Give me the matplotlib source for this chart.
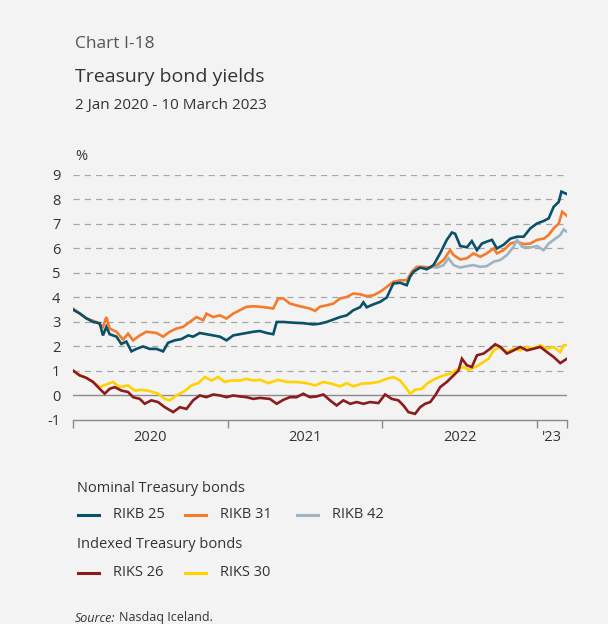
import matplotlib
matplotlib.use("Agg")
import matplotlib.pyplot as plt
from matplotlib.lines import Line2D
import numpy as np

plt.rcParams['font.family'] = ['Open Sans', 'DejaVu Sans']

# years since 2 Jan 2020 / yield in %
t_rikb25 = [0.000, 0.043, 0.086, 0.130, 0.173, 0.194, 0.216, 0.237, 0.281, 0.313, 0.345, 0.378, 0.410, 0.453,
            0.496, 0.540, 0.583, 0.615, 0.658, 0.701, 0.745, 0.777, 0.820, 0.863, 0.907, 0.950, 0.993, 1.036,
            1.079, 1.122, 1.166, 1.209, 1.252, 1.295, 1.317, 1.360, 1.425, 1.489, 1.554, 1.597, 1.640, 1.684,
            1.727, 1.770, 1.813, 1.856, 1.878, 1.899, 1.943, 1.986, 2.029, 2.051, 2.072, 2.115, 2.158, 2.180,
            2.202, 2.245, 2.288, 2.331, 2.374, 2.417, 2.450, 2.471, 2.504, 2.547, 2.579, 2.612, 2.644, 2.676,
            2.709, 2.741, 2.784, 2.828, 2.871, 2.914, 2.957, 3.000, 3.043, 3.076, 3.108, 3.141, 3.158, 3.194]
y_rikb25 = [3.50, 3.35, 3.15, 3.00, 2.95, 2.45, 2.80, 2.50, 2.40, 2.10, 2.20, 1.80, 1.90, 2.00,
            1.90, 1.90, 1.80, 2.15, 2.25, 2.30, 2.45, 2.40, 2.55, 2.50, 2.45, 2.40, 2.25, 2.45,
            2.50, 2.55, 2.60, 2.63, 2.55, 2.50, 3.00, 3.00, 2.97, 2.95, 2.90, 2.93, 3.00, 3.10,
            3.20, 3.27, 3.48, 3.60, 3.80, 3.60, 3.72, 3.82, 4.00, 4.30, 4.57, 4.60, 4.50, 4.85,
            5.05, 5.22, 5.15, 5.32, 5.80, 6.35, 6.65, 6.60, 6.10, 6.05, 6.30, 5.93, 6.20, 6.28,
            6.35, 6.00, 6.15, 6.40, 6.48, 6.48, 6.82, 7.02, 7.12, 7.23, 7.70, 7.90, 8.32, 8.22]

t_rikb31 = [0.000, 0.043, 0.086, 0.151, 0.194, 0.216, 0.237, 0.281, 0.324, 0.356, 0.389, 0.432, 0.475, 0.540,
            0.583, 0.626, 0.669, 0.712, 0.755, 0.799, 0.842, 0.863, 0.907, 0.950, 0.993, 1.036, 1.079, 1.122,
            1.166, 1.209, 1.252, 1.295, 1.327, 1.360, 1.403, 1.468, 1.532, 1.565, 1.597, 1.640, 1.684, 1.727,
            1.770, 1.813, 1.856, 1.899, 1.943, 1.986, 2.029, 2.072, 2.115, 2.158, 2.191, 2.223, 2.266, 2.310,
            2.353, 2.396, 2.439, 2.461, 2.504, 2.547, 2.590, 2.633, 2.676, 2.720, 2.741, 2.784, 2.828, 2.871,
            2.914, 2.957, 3.000, 3.043, 3.076, 3.108, 3.141, 3.163, 3.194]
y_rikb31 = [3.55, 3.35, 3.15, 3.00, 2.80, 3.20, 2.73, 2.60, 2.28, 2.52, 2.25, 2.45, 2.60, 2.55,
            2.40, 2.60, 2.73, 2.80, 3.00, 3.20, 3.07, 3.34, 3.20, 3.27, 3.14, 3.34, 3.48, 3.62,
            3.64, 3.62, 3.59, 3.55, 3.96, 3.96, 3.75, 3.64, 3.55, 3.45, 3.62, 3.68, 3.75, 3.96,
            4.02, 4.16, 4.13, 4.05, 4.09, 4.23, 4.43, 4.64, 4.70, 4.70, 5.05, 5.25, 5.25, 5.22,
            5.32, 5.53, 5.93, 5.73, 5.55, 5.60, 5.80, 5.66, 5.80, 6.00, 5.80, 5.93, 6.20, 6.28,
            6.18, 6.20, 6.35, 6.40, 6.55, 6.82, 7.02, 7.50, 7.33]

t_rikb42 = [2.320, 2.353, 2.396, 2.428, 2.461, 2.504, 2.547, 2.590, 2.633, 2.676, 2.720, 2.763,
            2.806, 2.849, 2.871, 2.903, 2.957, 3.000, 3.043, 3.076, 3.108, 3.151, 3.173, 3.194]
y_rikb42 = [5.25, 5.22, 5.32, 5.60, 5.32, 5.22, 5.28, 5.32, 5.25, 5.28, 5.46, 5.53,
            5.73, 6.07, 6.35, 6.07, 6.04, 6.10, 5.93, 6.20, 6.35, 6.55, 6.78, 6.68]

t_riks26 = [0.000, 0.043, 0.086, 0.130, 0.173, 0.205, 0.237, 0.270, 0.313, 0.356, 0.389, 0.432, 0.464, 0.507,
            0.550, 0.594, 0.648, 0.691, 0.734, 0.777, 0.820, 0.863, 0.907, 0.950, 0.993, 1.036, 1.079, 1.122,
            1.166, 1.209, 1.273, 1.317, 1.360, 1.403, 1.446, 1.489, 1.532, 1.576, 1.619, 1.662, 1.705, 1.748,
            1.792, 1.835, 1.878, 1.921, 1.975, 2.018, 2.061, 2.104, 2.137, 2.169, 2.212, 2.245, 2.277, 2.310,
            2.342, 2.374, 2.417, 2.461, 2.493, 2.515, 2.547, 2.579, 2.612, 2.655, 2.698, 2.730, 2.763, 2.806,
            2.849, 2.892, 2.935, 2.979, 3.022, 3.065, 3.108, 3.151, 3.194]
y_riks26 = [1.02, 0.82, 0.72, 0.55, 0.27, 0.07, 0.27, 0.34, 0.20, 0.14, -0.07, -0.14, -0.34, -0.20,
            -0.27, -0.48, -0.68, -0.48, -0.55, -0.20, 0.00, -0.07, 0.04, 0.00, -0.07, 0.00, -0.04, -0.07,
            -0.14, -0.10, -0.14, -0.34, -0.18, -0.07, -0.07, 0.07, -0.07, -0.04, 0.04, -0.20, -0.41, -0.20,
            -0.34, -0.27, -0.34, -0.27, -0.31, 0.04, -0.14, -0.20, -0.41, -0.68, -0.75, -0.48, -0.34, -0.27,
            0.00, 0.34, 0.55, 0.82, 1.02, 1.50, 1.23, 1.16, 1.64, 1.71, 1.91, 2.09, 1.98, 1.71,
            1.84, 1.98, 1.84, 1.91, 1.98, 1.77, 1.57, 1.32, 1.50]

t_riks30 = [0.000, 0.043, 0.086, 0.130, 0.173, 0.216, 0.259, 0.302, 0.356, 0.399, 0.442, 0.496, 0.550, 0.594,
            0.626, 0.669, 0.723, 0.766, 0.809, 0.853, 0.896, 0.939, 0.982, 1.025, 1.079, 1.122, 1.166, 1.209,
            1.263, 1.327, 1.381, 1.446, 1.511, 1.565, 1.619, 1.673, 1.727, 1.770, 1.813, 1.867, 1.921, 1.975,
            2.029, 2.072, 2.115, 2.158, 2.180, 2.212, 2.256, 2.288, 2.342, 2.396, 2.439, 2.482, 2.525, 2.558,
            2.601, 2.644, 2.687, 2.720, 2.763, 2.806, 2.849, 2.892, 2.935, 2.979, 3.022, 3.065, 3.108, 3.151,
            3.173, 3.194]
y_riks30 = [1.02, 0.82, 0.72, 0.55, 0.34, 0.45, 0.55, 0.34, 0.41, 0.20, 0.23, 0.18, 0.07, -0.14,
            -0.20, 0.00, 0.18, 0.41, 0.50, 0.75, 0.61, 0.75, 0.55, 0.61, 0.61, 0.68, 0.61, 0.64,
            0.50, 0.64, 0.55, 0.55, 0.50, 0.41, 0.55, 0.48, 0.37, 0.50, 0.37, 0.48, 0.50, 0.55,
            0.68, 0.75, 0.61, 0.27, 0.07, 0.23, 0.27, 0.48, 0.68, 0.82, 0.89, 1.05, 1.16, 1.05,
            1.16, 1.32, 1.50, 1.84, 1.98, 1.77, 1.91, 1.84, 1.98, 1.91, 2.05, 1.91, 1.98, 1.77,
            2.05, 2.05]

year_labels = ['2020', '2021', '2022', "'23"]
y_ticks = [-1, 0, 1, 2, 3, 4, 5, 6, 7, 8, 9]

BG = '#f3f3f3'
C_RIKB25 = '#0a5069'
C_RIKB31 = '#f47b2b'
C_RIKB42 = '#9fb4c0'
C_RIKS26 = '#8c1b1d'
C_RIKS30 = '#ffd200'
TXT = '#333333'

start, end = 2020.0, 2020.0 + t_rikb25[-1]

fig = plt.figure(figsize=(6.08, 6.24), dpi=100, facecolor=BG)
ax = fig.add_axes([0.120, 0.327, 0.8125, 0.3926], facecolor=BG)

lw = 1.9
series = [
    (t_riks30, y_riks30, C_RIKS30, 'RIKS 30'),
    (t_riks26, y_riks26, C_RIKS26, 'RIKS 26'),
    (t_rikb31, y_rikb31, C_RIKB31, 'RIKB 31'),
    (t_rikb42, y_rikb42, C_RIKB42, 'RIKB 42'),
    (t_rikb25, y_rikb25, C_RIKB25, 'RIKB 25'),
]
for i, (t, y, c, name) in enumerate(series):
    ax.plot(2020 + np.array(t), y, color=c, lw=lw, zorder=3 + i, solid_joinstyle='miter')

# grid
for v in y_ticks:
    if v == 0:
        ax.axhline(v, color='#8a8a8a', lw=1.0, zorder=2)
    elif v > 0:
        ax.axhline(v, color='#a6a6a6', lw=0.9, ls=(0, (5, 4)), zorder=1)

ax.set_xlim(start, end)
ax.set_ylim(-1, 9)
for s in ['top', 'right', 'left']:
    ax.spines[s].set_visible(False)
ax.spines['bottom'].set_color('#8a8a8a')
ax.spines['bottom'].set_linewidth(1.0)

ax.set_yticks(y_ticks)
ax.set_yticklabels([str(v) for v in y_ticks])
ax.tick_params(axis='y', length=0, pad=9, labelsize=10.5, labelcolor=TXT)

ax.set_xticks([2020, 2021, 2022, 2023, end])
ax.set_xticklabels([])
ax.tick_params(axis='x', which='major', direction='out', length=6, width=1.0, color='#8a8a8a')
mid = [2020.5, 2021.5, 2022.5, (2023 + end) / 2]
ax.set_xticks(mid, minor=True)
ax.set_xticklabels(year_labels, minor=True)
ax.tick_params(axis='x', which='minor', length=0, pad=7, labelsize=10.5, labelcolor=TXT)

fig.text(75 / 608, 1 - 157 / 624, '%', fontsize=10.5, color=TXT, va='center', ha='left')

# headings
fig.text(75 / 608, 1 - 44 / 624, 'Chart I-18', fontsize=12.5, color='#555555', va='center', ha='left')
fig.text(75 / 608, 1 - 77 / 624, 'Treasury bond yields', fontsize=14, color=TXT, va='center', ha='left')
fig.text(75 / 608, 1 - 105 / 624, '2 Jan 2020 - 10 March 2023', fontsize=11, color=TXT, va='center', ha='left')

# legend
def legend_item(x_px, y_px, color, label):
    y = 1 - y_px / 624
    fig.add_artist(Line2D([x_px / 608, (x_px + 21) / 608], [y, y], color=color, lw=2.2,
                          transform=fig.transFigure))
    fig.text((x_px + 35) / 608, y, label, fontsize=10.5, color=TXT, va='center', ha='left')

fig.text(77 / 608, 1 - 488 / 624, 'Nominal Treasury bonds', fontsize=10.5, color=TXT, va='center', ha='left')
legend_item(78, 515, C_RIKB25, 'RIKB 25')
legend_item(185, 515, C_RIKB31, 'RIKB 31')
legend_item(297, 515, C_RIKB42, 'RIKB 42')
fig.text(77 / 608, 1 - 545 / 624, 'Indexed Treasury bonds', fontsize=10.5, color=TXT, va='center', ha='left')
legend_item(78, 573, C_RIKS26, 'RIKS 26')
legend_item(185, 573, C_RIKS30, 'RIKS 30')

fig.text(75 / 608, 1 - 618 / 624, 'Source:', fontsize=9, color=TXT, style='italic', va='center', ha='left')
fig.text(119 / 608, 1 - 618 / 624, 'Nasdaq Iceland.', fontsize=9, color=TXT, va='center', ha='left')

fig.savefig('out.png', dpi=100, facecolor=BG)
